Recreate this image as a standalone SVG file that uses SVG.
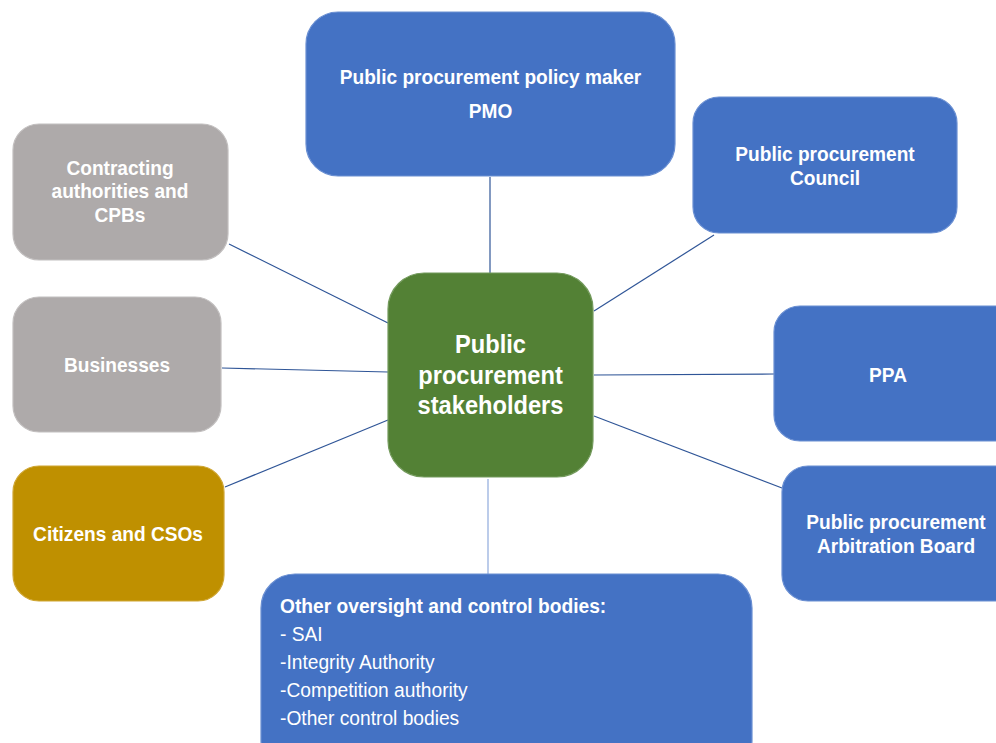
<svg xmlns="http://www.w3.org/2000/svg" width="996" height="743" viewBox="0 0 996 743">
  <style>
    .box { stroke-width: 1.2; }
    .blue { fill: #4472C4; stroke: #6A8FD2; }
    .grey { fill: #AEAAAA; stroke: #C2BFBF; }
    .gold { fill: #BF9000; stroke: #CFA633; }
    .green { fill: #538135; stroke: #739A5C; }
    .lbl { font-family: "Liberation Sans", Arial, sans-serif; font-weight: bold; font-size: 21px; fill: #FFFFFF; text-anchor: middle; }
    .big { font-size: 26px; }
    .lst { font-family: "Liberation Sans", Arial, sans-serif; font-size: 20px; fill: #FFFFFF; }
    .lst.b { font-weight: bold; }
    .link { stroke: #2F5597; stroke-width: 1.2; fill: none; }
    .link.light { stroke: #8FAADC; }
  </style>

  <rect width="996" height="743" fill="#FFFFFF"/>

  <!-- connectors from the hub to each stakeholder -->
  <g id="connectors">
    <line class="link" x1="490" y1="177" x2="490" y2="273"/>
    <line class="link" x1="714" y1="235" x2="594" y2="311"/>
    <line class="link" x1="229" y1="244" x2="388" y2="323"/>
    <line class="link" x1="222" y1="368" x2="388" y2="372"/>
    <line class="link" x1="225" y1="487" x2="388" y2="420"/>
    <line class="link" x1="594" y1="375" x2="774" y2="374"/>
    <line class="link" x1="594" y1="416" x2="782" y2="488"/>
    <line class="link light" x1="488" y1="479" x2="488" y2="574"/>
  </g>

  <g id="hub">
    <rect class="box green" x="388" y="273" width="205" height="204" rx="36"/>
    <g transform="translate(490.5,0) scale(0.91,1)">
      <text class="lbl big" x="0" y="353">Public</text>
      <text class="lbl big" x="0" y="384">procurement</text>
      <text class="lbl big" x="0" y="414">stakeholders</text>
    </g>
  </g>

  <g id="pmo">
    <rect class="box blue" x="306" y="12" width="369" height="164" rx="32"/>
    <g transform="translate(490.5,0) scale(0.91,1)">
      <text class="lbl" x="0" y="84">Public procurement policy maker</text>
      <text class="lbl" x="0" y="118">PMO</text>
    </g>
  </g>

  <g id="council">
    <rect class="box blue" x="693" y="97" width="264" height="136" rx="26"/>
    <g transform="translate(825,0) scale(0.91,1)">
      <text class="lbl" x="0" y="161">Public procurement</text>
      <text class="lbl" x="0" y="185">Council</text>
    </g>
  </g>

  <g id="contracting">
    <rect class="box grey" x="13" y="124" width="215" height="136" rx="26"/>
    <g transform="translate(120,0) scale(0.91,1)">
      <text class="lbl" x="0" y="175">Contracting</text>
      <text class="lbl" x="0" y="198">authorities and</text>
      <text class="lbl" x="0" y="222">CPBs</text>
    </g>
  </g>

  <g id="businesses">
    <rect class="box grey" x="13" y="297" width="208" height="135" rx="26"/>
    <g transform="translate(117,0) scale(0.91,1)">
      <text class="lbl" x="0" y="372">Businesses</text>
    </g>
  </g>

  <g id="citizens">
    <rect class="box gold" x="13" y="466" width="211" height="135" rx="26"/>
    <g transform="translate(118,0) scale(0.91,1)">
      <text class="lbl" x="0" y="541">Citizens and CSOs</text>
    </g>
  </g>

  <g id="ppa">
    <rect class="box blue" x="774" y="306" width="250" height="135" rx="26"/>
    <g transform="translate(888,0) scale(0.91,1)">
      <text class="lbl" x="0" y="382">PPA</text>
    </g>
  </g>

  <g id="arbitration">
    <rect class="box blue" x="782" y="466" width="242" height="135" rx="26"/>
    <g transform="translate(896,0) scale(0.91,1)">
      <text class="lbl" x="0" y="529">Public procurement</text>
      <text class="lbl" x="0" y="553">Arbitration Board</text>
    </g>
  </g>

  <g id="oversight">
    <rect class="box blue" x="261" y="574" width="491" height="200" rx="34"/>
    <g transform="translate(280,0) scale(0.96,1)">
      <text class="lst b" x="0" y="613">Other oversight and control bodies:</text>
      <text class="lst" x="0" y="641">- SAI</text>
      <text class="lst" x="0" y="669">-Integrity Authority</text>
      <text class="lst" x="0" y="697">-Competition authority</text>
      <text class="lst" x="0" y="725">-Other control bodies</text>
    </g>
  </g>
</svg>
